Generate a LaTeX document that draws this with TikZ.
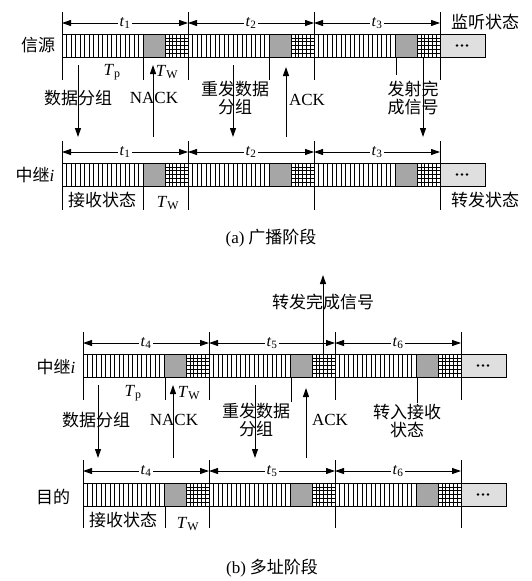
\documentclass[tikz,border=0pt]{standalone}
\usepackage{fontspec}
\setmainfont{Liberation Serif}
\newfontfamily\cjk{Noto Sans CJK SC}
\usetikzlibrary{arrows.meta}
\tikzset{
 tk/.style={line width=0.9pt},
 thin/.style={line width=0.5pt},
 dimline/.style={line width=0.9pt, -{Triangle[length=9pt,width=6pt]}},
 sig/.style={line width=1pt, -{Triangle[length=9pt,width=6pt]}},
 lbl/.style={font=\fontsize{17}{18}\selectfont\cjk, inner sep=0pt, align=center},
 captext/.style={font=\fontsize{17}{19}\selectfont\cjk, inner sep=0pt},
 lat/.style={font=\fontsize{17}{18}\selectfont, inner sep=0pt},
 tlab/.style={font=\fontsize{16}{17}\selectfont, fill=white, inner sep=1.5pt},
 tsym/.style={font=\fontsize{17}{18}\selectfont, inner sep=0pt},
}
\newcommand\mysegm[2]{%
 \foreach \k in {1,...,17} \draw[thin] ({#1+\k*4.5},#2) -- ++(0,23);
 \fill[gray!70] ({#1+81},#2) rectangle ++(22,23);
 \foreach \k in {1,...,5} {\draw[thin] ({#1+103+\k*23/6},#2) -- ++(0,23);
   \draw[thin] ({#1+103},{#2+\k*23/6}) -- ++(23,0);}
 \draw[tk] ({#1+81},#2) -- ++(0,23) ({#1+103},#2) -- ++(0,23);
}
\newcommand\mybar[2]{%
 \mysegm{#1}{#2}\mysegm{#1+126}{#2}\mysegm{#1+252}{#2}
 \fill[gray!25] ({#1+378},#2) rectangle ({#1+423},{#2+23});
 \foreach \d in {-5,0,5} \fill ({#1+400+\d},{#2+11.5}) circle (1.3);
 \draw[line width=1pt] (#1,#2) rectangle ({#1+423},{#2+23});
 \draw[line width=1pt] ({#1+126},#2) -- ++(0,23) ({#1+252},#2) -- ++(0,23) ({#1+378},#2) -- ++(0,23);
}
\newcommand\iti{{\rmfamily\itshape i}}
\begin{document}
\begin{tikzpicture}[x=1pt,y=-1pt]
\useasboundingbox (0,0) rectangle (531,581);
\fill[white] (0,0) rectangle (531,581);

%%%%%%%%%%%%%%%% (a)
\mybar{62}{34}
\mybar{62}{163}
% ticks
\foreach \x in {62,188,314,440} {\draw[tk] (\x,12) -- (\x,80); \draw[tk] (\x,141) -- (\x,210);}
\draw[tk] (143,57) -- (143,80) (269,57) -- (269,80) (396,57) -- (396,75);
\draw[tk] (143,186) -- (143,210);
% dimensions
\foreach \n/\xa/\xb in {1/62/188,2/188/314,3/314/440} {
  \node[tlab] (ta\n) at ({(\xa+\xb)/2},23) {\textit{t}\textsubscript{\n}};
  \coordinate (tal\n) at (\xa,23); \coordinate (tar\n) at (\xb,23);
  \draw[dimline] (ta\n.west) -- (tal\n); \draw[dimline] (ta\n.east) -- (tar\n);
  \node[tlab] (tb\n) at ({(\xa+\xb)/2},152) {\textit{t}\textsubscript{\n}};
  \coordinate (tbl\n) at (\xa,152); \coordinate (tbr\n) at (\xb,152);
  \draw[dimline] (tb\n.west) -- (tbl\n); \draw[dimline] (tb\n.east) -- (tbr\n);
}
% signals
\coordinate (s1a) at (78,65); \coordinate (s1b) at (78,137);
\coordinate (s2a) at (153,137); \coordinate (s2b) at (153,65);
\coordinate (s3a) at (233,65); \coordinate (s3b) at (233,137);
\coordinate (s4a) at (286,137); \coordinate (s4b) at (286,67);
\coordinate (s5a) at (423,57); \coordinate (s5b) at (423,137);
\foreach \s in {1,...,5} \draw[sig] (s\s a) -- (s\s b);
% labels
\node[lbl] (src) at (38,45) {信源};
\node[lbl] (listen) at (485,22) {监听状态};
\node[tsym] (tp1) at (112,72) {\textit{T}\textsubscript{p}};
\node[tsym] (tw1) at (167,72) {\textit{T}\textsubscript{W}};
\node[lbl] (d1) at (78,98) {数据分组};
\node[lat] (nack1) at (154,98) {NACK};
\node[lbl] (re1) at (235,98) {重发数据\\分组};
\node[lat] (ack1) at (307,100) {ACK};
\node[lbl] (done1) at (413,98) {发射完\\成信号};
\node[lbl] (relay1) at (35,175) {中继\iti};
\node[lbl] (rx1) at (102,200) {接收状态};
\node[tsym] (tw2) at (168,203) {\textit{T}\textsubscript{W}};
\node[lbl] (fw1) at (485,200) {转发状态};
\node[captext] (capa) at (271,238) {{\rmfamily (a)}\ 广播阶段};

%%%%%%%%%%%%%%%% (b)
\mybar{83}{354}
\mybar{83}{483}
\foreach \x in {83,209,335,461} {\draw[tk] (\x,332) -- (\x,400); \draw[tk] (\x,460) -- (\x,528);}
\draw[tk] (165,377) -- (165,400) (291,377) -- (291,402) (417,377) -- (417,403);
\draw[tk] (165,506) -- (165,528);
\foreach \n/\xa/\xb in {4/83/209,5/209/335,6/335/461} {
  \node[tlab] (tc\n) at ({(\xa+\xb)/2},343) {\textit{t}\textsubscript{\n}};
  \coordinate (tcl\n) at (\xa,343); \coordinate (tcr\n) at (\xb,343);
  \draw[dimline] (tc\n.west) -- (tcl\n); \draw[dimline] (tc\n.east) -- (tcr\n);
  \node[tlab] (td\n) at ({(\xa+\xb)/2},471) {\textit{t}\textsubscript{\n}};
  \coordinate (tdl\n) at (\xa,471); \coordinate (tdr\n) at (\xb,471);
  \draw[dimline] (td\n.west) -- (tdl\n); \draw[dimline] (td\n.east) -- (tdr\n);
}
\coordinate (u0a) at (323,354); \coordinate (u0b) at (323,275);
\coordinate (u1a) at (98,385); \coordinate (u1b) at (98,458);
\coordinate (u2a) at (173,458); \coordinate (u2b) at (173,385);
\coordinate (u3a) at (255,385); \coordinate (u3b) at (255,458);
\coordinate (u4a) at (306,458); \coordinate (u4b) at (306,388);
\foreach \s in {0,...,4} \draw[sig] (u\s a) -- (u\s b);
\node[lbl] (fwdone) at (323,302) {转发完成信号};
\node[lbl] (relay2) at (56,367) {中继\iti};
\node[tsym] (tp3) at (133,393) {\textit{T}\textsubscript{p}};
\node[tsym] (tw3) at (189,393) {\textit{T}\textsubscript{W}};
\node[lbl] (d2) at (96,420) {数据分组};
\node[lat] (nack2) at (174,420) {NACK};
\node[lbl] (re2) at (256,420) {重发数据\\分组};
\node[lat] (ack2) at (330,420) {ACK};
\node[lbl] (torx) at (407,421) {转入接收\\状态};
\node[lbl] (dst) at (53,497) {目的};
\node[lbl] (rx2) at (123,520) {接收状态};
\node[tsym] (tw4) at (188,524) {\textit{T}\textsubscript{W}};
\node[captext] (capb) at (272,568) {{\rmfamily (b)}\ 多址阶段};
\end{tikzpicture}
\end{document}
